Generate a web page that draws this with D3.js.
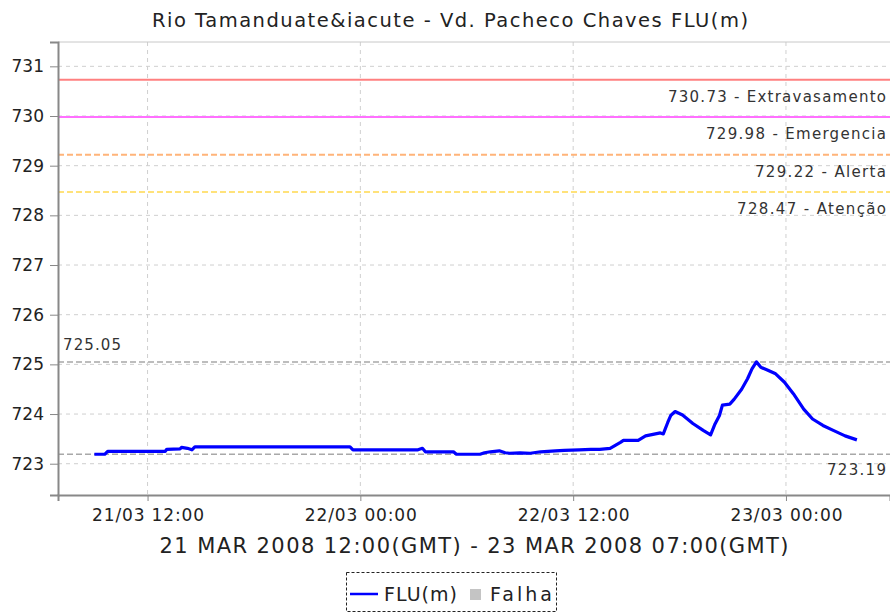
<!DOCTYPE html>
<html>
<head>
<meta charset="utf-8">
<script src="https://cdn.jsdelivr.net/npm/d3@7"></script>
<style>
  body { margin: 0; background: #fff; }
  svg { display: block; font-family: "DejaVu Sans", sans-serif; }
</style>
</head>
<body>
<svg id="chart" width="890" height="614"></svg>
<script>
// FLU(m) readings, local time
const times = [
  "2008-03-21 09:00", "2008-03-21 09:35", "2008-03-21 09:45", "2008-03-21 13:00",
  "2008-03-21 13:05", "2008-03-21 13:50", "2008-03-21 13:55", "2008-03-21 14:15",
  "2008-03-21 14:30", "2008-03-21 14:40", "2008-03-21 23:25", "2008-03-21 23:35",
  "2008-03-22 03:15", "2008-03-22 03:30", "2008-03-22 03:40", "2008-03-22 05:15",
  "2008-03-22 05:25", "2008-03-22 06:45", "2008-03-22 07:00", "2008-03-22 07:20",
  "2008-03-22 07:50", "2008-03-22 08:10", "2008-03-22 08:25", "2008-03-22 09:00",
  "2008-03-22 09:35", "2008-03-22 10:10", "2008-03-22 11:00", "2008-03-22 11:30",
  "2008-03-22 12:20", "2008-03-22 13:00", "2008-03-22 13:30", "2008-03-22 14:05",
  "2008-03-22 14:40", "2008-03-22 14:50", "2008-03-22 15:40", "2008-03-22 16:05",
  "2008-03-22 16:55", "2008-03-22 17:05", "2008-03-22 17:20", "2008-03-22 17:30",
  "2008-03-22 17:45", "2008-03-22 18:10", "2008-03-22 18:45", "2008-03-22 19:20",
  "2008-03-22 19:45", "2008-03-22 20:00", "2008-03-22 20:15", "2008-03-22 20:25",
  "2008-03-22 20:50", "2008-03-22 21:05", "2008-03-22 21:30", "2008-03-22 21:50",
  "2008-03-22 22:05", "2008-03-22 22:20", "2008-03-22 22:35", "2008-03-22 22:55",
  "2008-03-22 23:25", "2008-03-22 23:55", "2008-03-23 00:25", "2008-03-23 01:00",
  "2008-03-23 01:30", "2008-03-23 02:05", "2008-03-23 02:40", "2008-03-23 03:20",
  "2008-03-23 04:00"
];
const levels = [
  723.19, 723.19, 723.25, 723.25,
  723.29, 723.30, 723.33, 723.31,
  723.28, 723.34, 723.34, 723.28,
  723.28, 723.31, 723.24, 723.24,
  723.19, 723.19, 723.22, 723.24,
  723.26, 723.22, 723.21, 723.22,
  723.21, 723.24, 723.26, 723.27,
  723.28, 723.29, 723.29, 723.31,
  723.43, 723.47, 723.47, 723.56,
  723.62, 723.60, 723.83, 723.97,
  724.05, 723.98, 723.81, 723.67,
  723.58, 723.80, 723.97, 724.18,
  724.20, 724.30, 724.50, 724.71,
  724.91, 725.05, 724.94, 724.89,
  724.81, 724.64, 724.41, 724.10,
  723.90, 723.77, 723.67, 723.56,
  723.48
];

// threshold markers
const limitValues = [730.73, 729.98, 729.22, 728.47];
const limitNames = ["Extravasamento", "Emergencia", "Alerta", "Atenção"];
const limitColors = ["#ff8080", "#ff70ff", "#ffb47a", "#ffe27a"];
const limitDash = [null, null, "6,3", "6,3"];

const maxLevel = 725.05;
const minLevel = 723.19;

const yTicks = [723, 724, 725, 726, 727, 728, 729, 730, 731];
const xDomain = ["2008-03-21 06:57", "2008-03-23 05:52"];
const yDomain = [722.37, 731.49];

const title = "Rio Tamanduate&iacute - Vd. Pacheco Chaves FLU(m)";
const xTitle = "21 MAR 2008 12:00(GMT) - 23 MAR 2008 07:00(GMT)";

const parse = d3.utcParse("%Y-%m-%d %H:%M");
const data = times.map((t, i) => ({ t: parse(t), v: levels[i] }));

const svg = d3.select("#chart");
const pLeft = 58, pRight = 890, pTop = 42, pBottom = 495;

const x = d3.scaleUtc().domain(xDomain.map(parse)).range([pLeft, pRight]);
const y = d3.scaleLinear().domain(yDomain).range([pBottom, pTop]);

svg.append("text")
  .attr("x", 450).attr("y", 27)
  .attr("text-anchor", "middle")
  .attr("font-size", 19.5).attr("fill", "#222")
  .attr("textLength", 596).attr("lengthAdjust", "spacing")
  .text(title);

// grid
const xTicks = d3.utcHour.every(12).range(x.domain()[0], x.domain()[1]);
const grid = svg.append("g").attr("stroke", "#cfcfcf").attr("stroke-dasharray", "4,4");
grid.selectAll(".gx").data(xTicks).join("line")
  .attr("x1", d => x(d)).attr("x2", d => x(d))
  .attr("y1", pTop).attr("y2", pBottom);
grid.selectAll(".gy").data(yTicks).join("line")
  .attr("x1", pLeft).attr("x2", pRight)
  .attr("y1", d => y(d)).attr("y2", d => y(d));

// top border
svg.append("line").attr("x1", pLeft).attr("x2", pRight).attr("y1", pTop).attr("y2", pTop)
  .attr("stroke", "#c8c8c8");

// max / min markers
const mm = svg.append("g");
[maxLevel, minLevel].forEach(v => {
  mm.append("line")
    .attr("x1", pLeft).attr("x2", pRight).attr("y1", y(v)).attr("y2", y(v))
    .attr("stroke", "#a8a8a8").attr("stroke-width", 1.5).attr("stroke-dasharray", "6,3");
});
mm.append("text").attr("x", 63).attr("y", y(maxLevel) - 12)
  .attr("font-size", 15).attr("fill", "#333")
  .attr("textLength", 58).attr("lengthAdjust", "spacing")
  .text(maxLevel.toFixed(2));
mm.append("text").attr("x", 886).attr("y", y(minLevel) + 21)
  .attr("text-anchor", "end")
  .attr("font-size", 15).attr("fill", "#333")
  .attr("textLength", 59).attr("lengthAdjust", "spacing")
  .text(minLevel.toFixed(2));

// thresholds
const labelWidths = [218, 180, 131, 149];
const lim = svg.append("g");
limitValues.forEach((v, i) => {
  lim.append("line")
    .attr("x1", pLeft).attr("x2", pRight).attr("y1", y(v)).attr("y2", y(v))
    .attr("stroke", limitColors[i]).attr("stroke-width", 1.8)
    .attr("stroke-dasharray", limitDash[i]);
  lim.append("text")
    .attr("x", 886).attr("y", y(v) + 22)
    .attr("text-anchor", "end")
    .attr("font-size", 15).attr("fill", "#333")
    .attr("textLength", labelWidths[i]).attr("lengthAdjust", "spacing")
    .text(v.toFixed(2) + " - " + limitNames[i]);
});

// series
const line = d3.line().x(d => x(d.t)).y(d => y(d.v));
svg.append("path").datum(data)
  .attr("d", line)
  .attr("fill", "none")
  .attr("stroke", "#0000ff")
  .attr("stroke-width", 3.2)
  .attr("stroke-linejoin", "round");

// axes
const yAxis = svg.append("g").attr("transform", `translate(${pLeft},0)`)
  .call(d3.axisLeft(y).tickValues(yTicks).tickSize(8).tickPadding(6).tickFormat(d3.format("d")));
const xAxis = svg.append("g").attr("transform", `translate(0,${pBottom})`)
  .call(d3.axisBottom(x).tickValues(xTicks).tickSize(6).tickPadding(8)
    .tickFormat(d3.utcFormat("%d/%m %H:%M")));
[yAxis, xAxis].forEach(a => {
  a.select(".domain").attr("stroke", "#888").attr("stroke-width", 2);
  a.selectAll(".tick line").attr("stroke", "#888");
  a.selectAll("text").attr("fill", "#222").attr("font-family", "DejaVu Sans");
});
yAxis.selectAll("text").attr("font-size", 17);
xAxis.selectAll("text").attr("font-size", 17)
  .attr("textLength", 112).attr("lengthAdjust", "spacing");

svg.append("text")
  .attr("x", (pLeft + pRight) / 2).attr("y", 553)
  .attr("text-anchor", "middle")
  .attr("font-size", 21).attr("fill", "#222")
  .attr("textLength", 629).attr("lengthAdjust", "spacing")
  .text(xTitle);

// legend
const lg = svg.append("g");
lg.append("rect").attr("x", 346.5).attr("y", 572.5).attr("width", 210).attr("height", 39)
  .attr("fill", "#fff").attr("stroke", "#222").attr("stroke-dasharray", "3,2");
lg.append("line").attr("x1", 350).attr("x2", 378).attr("y1", 594).attr("y2", 594)
  .attr("stroke", "#0000ff").attr("stroke-width", 2.5);
lg.append("text").attr("x", 384).attr("y", 601).attr("font-size", 19).attr("fill", "#222")
  .attr("textLength", 73).attr("lengthAdjust", "spacing").text("FLU(m)");
lg.append("rect").attr("x", 470).attr("y", 589).attr("width", 11).attr("height", 11)
  .attr("fill", "#c4c4c4");
lg.append("text").attr("x", 490).attr("y", 601).attr("font-size", 19).attr("fill", "#222")
  .attr("textLength", 62).attr("lengthAdjust", "spacing").text("Falha");
</script>
</body>
</html>
